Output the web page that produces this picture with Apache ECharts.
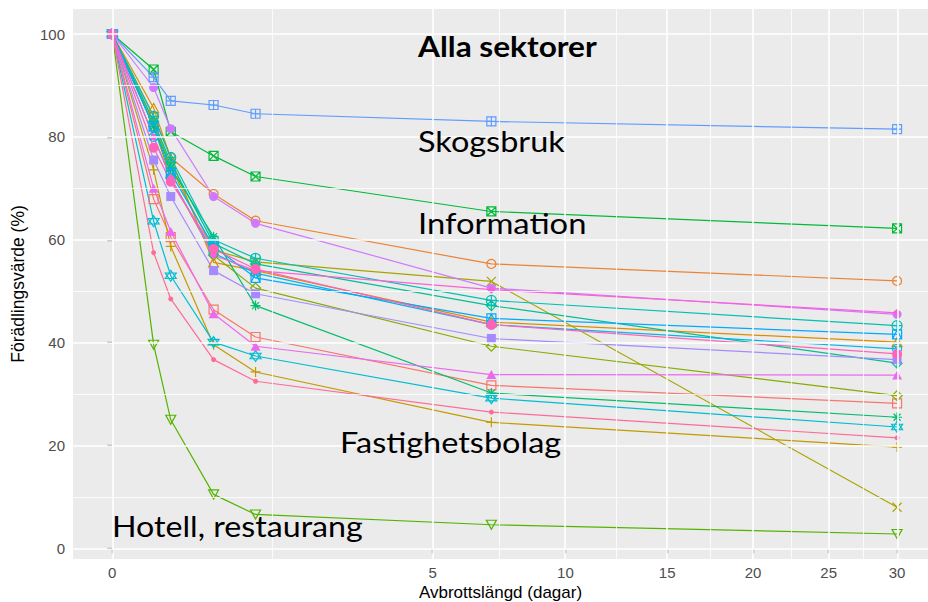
<!DOCTYPE html>
<html><head><meta charset="utf-8">
<script src="https://cdn.jsdelivr.net/npm/echarts@6/dist/echarts.min.js"></script>
<style>html,body{margin:0;padding:0;background:#fff}#c{width:928px;height:602px}
#c svg text{font-variant-ligatures:none;font-feature-settings:"liga" 0, "dlig" 0;}</style>
</head><body><div id="c"></div>
<script>
// x positions in days (2h, 4h, 12h, 1 day, 1 week, 30 days)
const days = [0, 1/12, 1/6, 0.5, 1, 7, 30];
const xTickValues = [0, 5, 10, 15, 20, 25, 30];
const yTickValues = [0, 20, 40, 60, 80, 100];
const yMinorValues = [10, 30, 50, 70, 90];

const s00 = [100, 67.9, 60.5, 46.4, 41.1, 31.7, 28.2];
const s01 = [100, 84.0, 76.0, 68.9, 63.7, 55.3, 52.0];
const s02 = [100, 85.6, 75.8, 55.6, 54.0, 44.0, 40.1];
const s03 = [100, 73.6, 58.7, 39.6, 34.3, 24.5, 19.7];
const s04 = [100, 83.0, 74.0, 58.0, 55.7, 51.9, 8.0];
const s05 = [100, 82.0, 72.0, 57.0, 50.6, 39.3, 29.7];
const s06 = [100, 39.6, 25.0, 10.5, 6.6, 4.6, 2.8];
const s07 = [100, 93.1, 81.0, 76.3, 72.3, 65.5, 62.2];
const s08 = [100, 82.0, 74.0, 60.6, 47.2, 30.2, 25.5];
const s09 = [100, 83.0, 75.0, 59.3, 55.3, 47.2, 36.0];
const s10 = [100, 84.0, 76.0, 60.0, 56.4, 48.2, 43.3];
const s11 = [100, 63.6, 53.0, 40.1, 37.4, 29.2, 23.6];
const s12 = [100, 91.6, 87.0, 86.2, 84.5, 83.0, 81.5];
const s13 = [100, 80.0, 72.0, 57.4, 53.5, 43.5, 38.8];
const s14 = [100, 82.0, 73.0, 58.7, 52.6, 44.7, 41.6];
const s15 = [100, 75.5, 68.4, 54.0, 49.5, 40.8, 36.7];
const s16 = [100, 89.6, 81.6, 68.4, 63.2, 50.6, 45.5];
const s17 = [100, 70.0, 61.6, 45.6, 39.3, 33.8, 33.7];
const s18 = [100, 80.0, 72.0, 57.0, 54.0, 50.3, 45.8];
const s19 = [100, 77.9, 71.3, 58.2, 54.3, 43.5, 37.8];
const s20 = [100, 57.5, 48.5, 36.7, 32.5, 26.5, 21.5];

const seriesValues = [s00,s01,s02,s03,s04,s05,s06,s07,s08,s09,s10,s11,s12,s13,s14,s15,s16,s17,s18,s19,s20];
const seriesNames = seriesValues.map((_, i) => 'Sektor ' + (i + 1));

const annotations = ['Alla sektorer', 'Skogsbruk', 'Information', 'Fastighetsbolag', 'Hotell, restaurang'];

// ---- styling ----
function hcl(h, c, l) {
  const hr = h * Math.PI / 180;
  const u = c * Math.cos(hr), v = c * Math.sin(hr);
  const Xn = 95.047, Yn = 100, Zn = 108.883;
  const Y = l > 8 ? Yn * Math.pow((l + 16) / 116, 3) : Yn * l / 903.3;
  const den = Xn + 15 * Yn + 3 * Zn;
  const un = 4 * Xn / den, vn = 9 * Yn / den;
  const up = u / (13 * l) + un, vp = v / (13 * l) + vn;
  const X = Y * 9 * up / (4 * vp);
  const Z = Y * (12 - 3 * up - 20 * vp) / (4 * vp);
  const x = X / 100, y = Y / 100, z = Z / 100;
  let r = 3.240479 * x - 1.537150 * y - 0.498535 * z;
  let g = -0.969256 * x + 1.875992 * y + 0.041556 * z;
  let b = 0.055648 * x - 0.204043 * y + 1.057311 * z;
  const gam = t => { t = t <= 0.0031308 ? 12.92 * t : 1.055 * Math.pow(t, 1 / 2.4) - 0.055; return Math.round(Math.max(0, Math.min(1, t)) * 255); };
  return 'rgb(' + gam(r) + ',' + gam(g) + ',' + gam(b) + ')';
}
const hueIndex = [0,1,2,3,4,5,6,7,8,9,10,11,14,12,13,15,16,17,18,19,20];
const colors = hueIndex.map(k => hcl(15 + 360 * k / 21, 100, 65));

const P = {
  sq: 'path://M0,0H10V10H0Z',
  tri: 'path://M5,0L10,8.66L0,8.66Z',
  plus: 'path://M5,0V10M0,5H10',
  cross: 'path://M0,0L10,10M10,0L0,10',
  dia: 'path://M5,0L10,5L5,10L0,5Z',
  triD: 'path://M0,0H10L5,8.66Z',
  sqx: 'path://M0,0H10V10H0ZM0,0L10,10M10,0L0,10',
  ast: 'path://M5,0V10M0,5H10M1.5,1.5L8.5,8.5M8.5,1.5L1.5,8.5',
  diaP: 'path://M5,0L10,5L5,10L0,5ZM5,0V10M0,5H10',
  cirP: 'path://M10,5A5,5,0,1,1,0,5A5,5,0,1,1,10,5ZM5,0V10M0,5H10',
  star: 'path://M5,0L9.33,7.5L0.67,7.5ZM5,10L0.67,2.5L9.33,2.5Z',
  sqP: 'path://M0,0H10V10H0ZM5,0V10M0,5H10',
  cirX: 'path://M10,5A5,5,0,1,1,0,5A5,5,0,1,1,10,5ZM1.46,1.46L8.54,8.54M8.54,1.46L1.46,8.54',
  sqT: 'path://M0,0H10V10H0ZM0,10L5,0L10,10'
};
// [symbol, filled, size]
const shapes = [
  [P.sq, false, 9], ['circle', false, 9], [P.tri, false, [10, 9]], [P.plus, false, 10], [P.cross, false, 9],
  [P.dia, false, 10], [P.triD, false, [10, 9]], [P.sqx, false, 9], [P.ast, false, 10], [P.diaP, false, 10],
  [P.cirP, false, 10], [P.star, false, 11], [P.sqP, false, 9], [P.cirX, false, 9], [P.sqT, false, 9],
  ['rect', true, 9], ['circle', true, 9], ['triangle', true, [10, 9]], ['diamond', true, 8], ['circle', true, 10],
  ['circle', true, 5]
];

const sq = v => Math.sqrt(v);
const series = seriesValues.map((vals, i) => {
  const col = colors[i];
  const [sym, filled, size] = shapes[i];
  return {
    name: seriesNames[i], type: 'line', z: 3,
    data: days.map((d, j) => [sq(d), vals[j]]),
    symbol: sym, symbolSize: size, showSymbol: true,
    lineStyle: { color: col, width: 1.2 },
    itemStyle: { color: filled ? col : 'rgba(0,0,0,0)', borderColor: col, borderWidth: filled ? 0 : 1.2 },
    emphasis: { disabled: true }
  };
});

const major = { color: '#FFFFFF', width: 1.6, type: 'solid' };
const minor = { color: '#FFFFFF', width: 0.8, type: 'solid' };
const xMinor = [];
for (let i = 0; i < xTickValues.length - 1; i++) xMinor.push(((sq(xTickValues[i]) + sq(xTickValues[i + 1])) / 2));
const gridLines = []
  .concat(yMinorValues.map(v => ({ yAxis: v, lineStyle: minor })))
  .concat(xMinor.map(v => ({ xAxis: v, lineStyle: minor })))
  .concat(yTickValues.map(v => ({ yAxis: v, lineStyle: major })))
  .concat(xTickValues.map(v => ({ xAxis: sq(v), lineStyle: major })));
series.unshift({
  type: 'line', z: 1, silent: true, data: [[0, 50]], showSymbol: false, lineStyle: { opacity: 0 },
  markLine: { silent: true, symbol: ['none', 'none'], label: { show: false }, data: gridLines, animation: false }
});

// [x, y centre, weight, horizontal stretch]
const annPos = [[418, 45, 'bold', 1.09], [418, 140, 'normal', 1.12], [418, 222, 'normal', 1.13], [340, 441, 'normal', 1.12], [112, 525, 'normal', 1.11]];
const graphics = annotations.map((t, i) => ({
  type: 'text', x: annPos[i][0], y: annPos[i][1] + 1, scaleX: annPos[i][3], z: 100,
  style: { text: t, font: annPos[i][2] + ' 29px Lato', fill: '#000', align: 'left', verticalAlign: 'middle' }
}));

const chart = echarts.init(document.getElementById('c'), null, { renderer: 'svg' });
chart.setOption({
  animation: false,
  backgroundColor: '#FFFFFF',
  grid: { left: 73, right: 0, top: 9, bottom: 43, show: true, backgroundColor: '#EBEBEB', borderWidth: 0, containLabel: false, outerBoundsMode: 'none' },
  xAxis: {
    type: 'value', min: -0.274, max: 5.693,
    axisLine: { show: false },
    axisTick: { show: true, customValues: xTickValues.map(sq), length: 5, lineStyle: { color: '#333333', width: 1.2 } },
    axisLabel: { customValues: xTickValues.map(sq), formatter: v => String(Math.round(v * v)), color: '#4D4D4D', fontSize: 15, margin: 6, fontFamily: 'Liberation Sans' },
    splitLine: { show: false },
    name: 'Avbrottslängd (dagar)', nameLocation: 'middle', nameGap: 33, nameMoveOverlap: false,
    nameTextStyle: { color: '#000', fontSize: 17, fontFamily: 'Liberation Sans', verticalAlign: 'middle' }
  },
  yAxis: {
    type: 'value', min: -2.06, max: 104.86,
    axisLine: { show: false },
    axisTick: { show: true, customValues: yTickValues, length: 5, lineStyle: { color: '#333333', width: 1.2 } },
    axisLabel: { customValues: yTickValues, color: '#4D4D4D', fontSize: 15, margin: 8, fontFamily: 'Liberation Sans' },
    splitLine: { show: false },
    name: 'Förädlingsvärde (%)', nameLocation: 'middle', nameGap: 46,
    nameTextStyle: { color: '#000', fontSize: 17.5, fontFamily: 'Liberation Sans' }
  },
  graphic: graphics,
  series: series
});
</script></body></html>
